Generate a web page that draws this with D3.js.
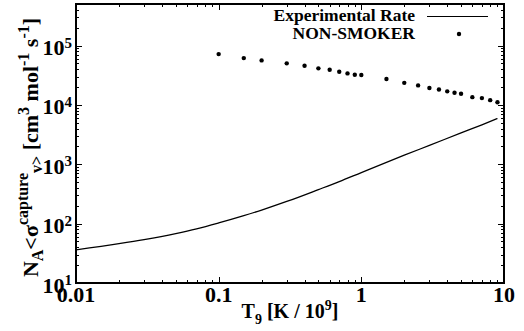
<!DOCTYPE html>
<html>
<head>
<meta charset="utf-8">
<script src="https://cdn.jsdelivr.net/npm/d3@7"></script>
<style>
  body { margin: 0; background: #fff; }
  svg { display: block; }
  text { font-family: "Liberation Serif", "DejaVu Serif", serif; font-weight: bold; fill: #000; }
</style>
</head>
<body>
<svg id="chart" width="524" height="331"></svg>
<script>
// experimental rate (solid line)
const rateT = [0.01, 0.02, 0.03, 0.05, 0.07, 0.1, 0.15, 0.2, 0.3, 0.5, 0.7, 1, 2, 3, 5, 7, 9]
const rateV = [36, 45.9, 53.8, 68, 81.6, 102.6, 136, 169, 236, 374, 510, 724, 1420, 2080, 3370, 4620, 5900]

// NON-SMOKER (dots)
const nsT = [0.1, 0.15, 0.2, 0.3, 0.4, 0.5, 0.6, 0.7, 0.8, 0.9, 1, 1.5, 2, 2.5, 3, 3.5, 4, 4.5, 5, 6, 7, 8, 9]
const nsV = [71600, 61400, 56100, 50000, 45500, 41200, 39000, 36100, 33900, 32100, 31800,
  27200, 23500, 21300, 19200, 18200, 16900, 16000, 15400, 13500, 13000, 12000, 11100]

const xTicks = [0.01, 0.1, 1, 10]
const xTickLabels = ['0.01', '0.1', '1', '10']
const yTicks = [10, 100, 1000, 10000, 100000]
const yTickExp = ['1', '2', '3', '4', '5']

const legendLabels = ['Experimental Rate', 'NON-SMOKER']

const margin = { left: 76, right: 20, top: 4, bottom: 48 }
const width = 524, height = 331

const svg = d3.select('#chart')

const x = d3.scaleLog().domain([0.01, 10]).range([margin.left, width - margin.right])
const y = d3.scaleLog().domain([10, 500000]).range([height - margin.bottom, margin.top])

const x0 = x.range()[0], x1 = x.range()[1]
const y0 = y.range()[0], y1 = y.range()[1]

// minor tick values
function minors(lo, hi) {
  const out = []
  for (let d = lo; d < hi; d *= 10) {
    for (let k = 2; k <= 9; k++) if (d * k <= hi) out.push(d * k)
  }
  return out
}
const xMinor = minors(0.01, 10)
const yMinor = minors(10, 500000)

const tickG = svg.append('g').attr('stroke', '#000').attr('stroke-width', 1)

// x ticks, bottom and top, pointing inward
xTicks.forEach(v => {
  const px = Math.round(x(v)) + 0.5
  tickG.append('line').attr('x1', px).attr('x2', px).attr('y1', y0).attr('y2', y0 - 6)
  tickG.append('line').attr('x1', px).attr('x2', px).attr('y1', y1).attr('y2', y1 + 6)
})
xMinor.forEach(v => {
  const px = Math.round(x(v)) + 0.5
  tickG.append('line').attr('x1', px).attr('x2', px).attr('y1', y0).attr('y2', y0 - 3)
  tickG.append('line').attr('x1', px).attr('x2', px).attr('y1', y1).attr('y2', y1 + 3)
})
// y ticks, left and right
yTicks.forEach(v => {
  const py = Math.round(y(v)) + 0.5
  tickG.append('line').attr('x1', x0).attr('x2', x0 + 6).attr('y1', py).attr('y2', py)
  tickG.append('line').attr('x1', x1).attr('x2', x1 - 6).attr('y1', py).attr('y2', py)
})
yMinor.forEach(v => {
  const py = Math.round(y(v)) + 0.5
  tickG.append('line').attr('x1', x0).attr('x2', x0 + 3).attr('y1', py).attr('y2', py)
  tickG.append('line').attr('x1', x1).attr('x2', x1 - 3).attr('y1', py).attr('y2', py)
})

// frame
svg.append('rect')
  .attr('x', x0).attr('y', y1)
  .attr('width', x1 - x0).attr('height', y0 - y1)
  .attr('fill', 'none').attr('stroke', '#000').attr('stroke-width', 2)

// x tick labels
svg.append('g').selectAll('text')
  .data(xTicks)
  .join('text')
  .attr('x', d => x(d))
  .attr('y', y0 + 19)
  .attr('text-anchor', 'middle')
  .attr('font-size', 22)
  .text((d, i) => xTickLabels[i])

// y tick labels: 10 with superscript exponent
const yl = svg.append('g').selectAll('text')
  .data(yTicks)
  .join('text')
  .attr('x', x0 - 4)
  .attr('y', d => y(d) + 9.5)
  .attr('text-anchor', 'end')
  .attr('font-size', 22)
yl.append('tspan').text('10')
yl.append('tspan').attr('dy', -7.5).attr('font-size', 15).text((d, i) => yTickExp[i])

// x axis title
const xt = svg.append('text')
  .attr('x', (x0 + x1) / 2)
  .attr('y', 318)
  .attr('text-anchor', 'middle')
  .attr('font-size', 20)
xt.append('tspan').text('T')
xt.append('tspan').attr('dy', 6).attr('font-size', 14).text('9')
xt.append('tspan').attr('dy', -6).text(' [K / 10')
xt.append('tspan').attr('dy', -8).attr('font-size', 14).text('9')
xt.append('tspan').attr('dy', 8).text(']')

// y axis title
const yt = svg.append('text')
  .attr('transform', `translate(38, ${(y0 + y1) / 2 + 4}) rotate(-90)`)
  .attr('text-anchor', 'middle')
  .attr('font-size', 22)
yt.append('tspan').text('N')
yt.append('tspan').attr('dy', 5).attr('font-size', 16).text('A')
yt.append('tspan').attr('dy', -5).text('<σ')
yt.append('tspan').attr('dy', -10).attr('font-size', 16).text('capture')
yt.append('tspan').attr('dy', 14).attr('font-size', 16).text('v>')
yt.append('tspan').attr('dy', -4).text(' [cm')
yt.append('tspan').attr('dy', -9).attr('font-size', 16).text('3')
yt.append('tspan').attr('dy', 9).text(' mol')
yt.append('tspan').attr('dy', -9).attr('font-size', 16).text('-1')
yt.append('tspan').attr('dy', 9).text(' s')
yt.append('tspan').attr('dy', -9).attr('font-size', 16).text('-1')
yt.append('tspan').attr('dy', 9).text(']')

// clip to plot area
svg.append('clipPath').attr('id', 'plot')
  .append('rect').attr('x', x0).attr('y', y1).attr('width', x1 - x0).attr('height', y0 - y1)

const plot = svg.append('g').attr('clip-path', 'url(#plot)')

const line = d3.line()
  .x(d => x(d[0]))
  .y(d => y(d[1]))
  .curve(d3.curveMonotoneX)

plot.append('path')
  .datum(rateT.map((t, i) => [t, rateV[i]]))
  .attr('d', line)
  .attr('fill', 'none')
  .attr('stroke', '#000')
  .attr('stroke-width', 1.3)

plot.selectAll('circle')
  .data(nsT.map((t, i) => [t, nsV[i]]))
  .join('circle')
  .attr('cx', d => x(d[0]))
  .attr('cy', d => y(d[1]))
  .attr('r', 2.2)
  .attr('fill', '#000')

// legend
const lg = svg.append('g')
lg.append('text').attr('x', 415).attr('y', 21).attr('text-anchor', 'end').attr('font-size', 17.5).text(legendLabels[0])
lg.append('line').attr('x1', 427).attr('x2', 488).attr('y1', 16.5).attr('y2', 16.5).attr('stroke', '#000').attr('stroke-width', 1)
lg.append('text').attr('x', 415).attr('y', 39).attr('text-anchor', 'end').attr('font-size', 17.5).text(legendLabels[1])
lg.append('circle').attr('cx', 459).attr('cy', 34).attr('r', 2.2).attr('fill', '#000')
</script>
</body>
</html>
